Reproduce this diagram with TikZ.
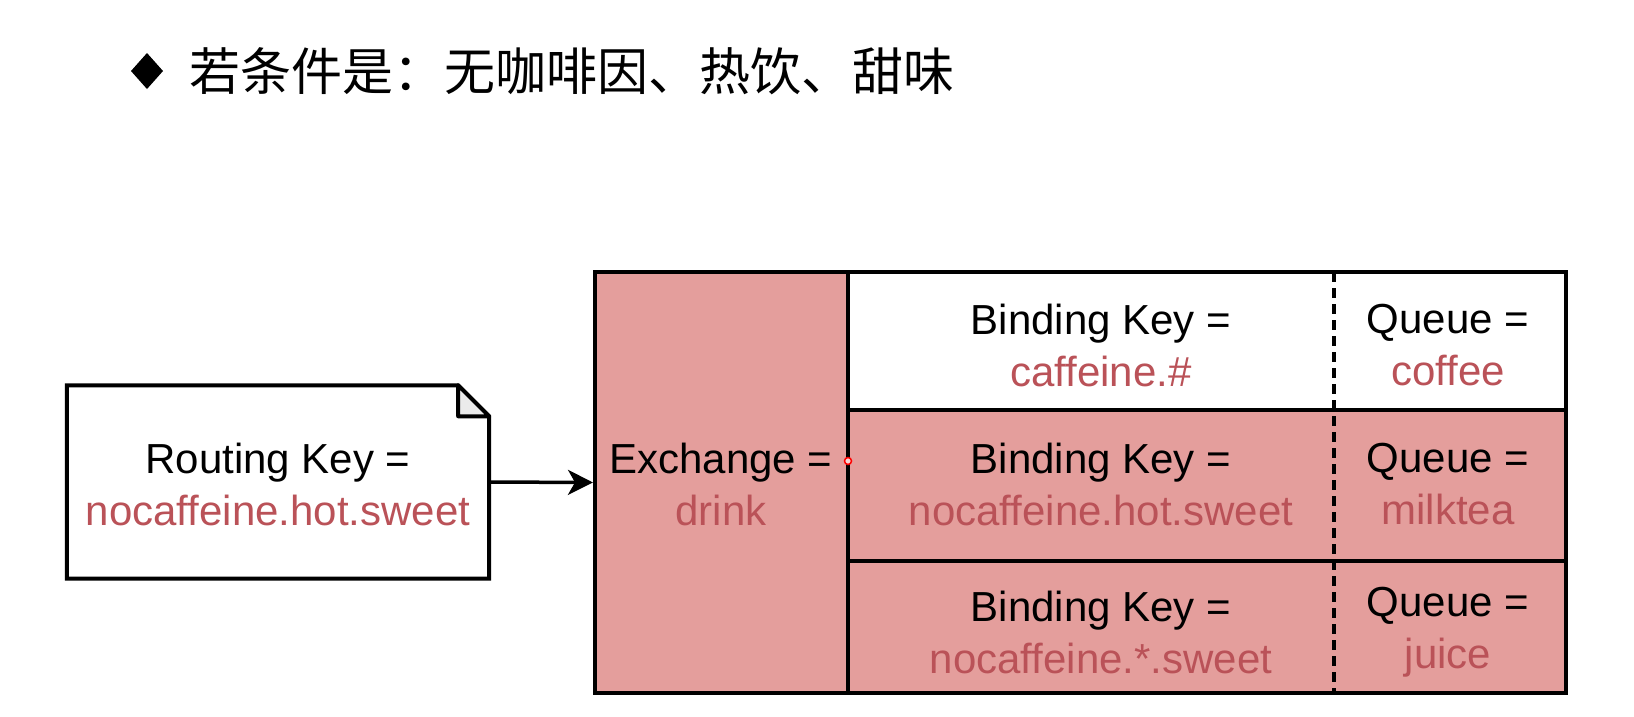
\documentclass[tikz,border=0pt]{standalone}
\usepackage{fontspec}
\setmainfont{Liberation Sans}
\newfontfamily\cjk{Noto Sans CJK SC}
\usetikzlibrary{arrows.meta}
\definecolor{dred}{RGB}{186,82,88}
\definecolor{pinkfill}{RGB}{228,158,156}
\definecolor{foldgray}{RGB}{235,235,235}
\begin{document}
\begin{tikzpicture}[x=1pt,y=-1pt,
  cell/.style={draw=black, line width=4pt, inner sep=0pt},
  lbl/.style={align=center, font=\fontsize{42}{52}\selectfont, inner sep=0pt},
  sep/.style={line width=3.5pt, dash pattern=on 10pt off 6pt},
  conn/.style={line width=3.5pt, -{Stealth[length=25pt,width=25pt,inset=7pt]}},
  ]
\useasboundingbox (0,0) rectangle (1634,716);
\fill[white] (0,0) rectangle (1634,716);
% title
\fill[black] (131,71) -- (147,53) -- (163,71) -- (147,89) -- cycle;
\node[anchor=west, inner sep=0pt, font=\cjk\fontsize{51}{60}\selectfont] (title) at (189,71) {若条件是：无咖啡因、热饮、甜味};
% table rows
\node[cell, fill=white, minimum width=718pt, minimum height=138pt] (r1) at (1207,341) {};
\node[cell, fill=pinkfill, minimum width=718pt, minimum height=151pt] (r2) at (1207,485.5) {};
\node[cell, fill=pinkfill, minimum width=718pt, minimum height=132pt] (r3) at (1207,627) {};
\node[cell, fill=pinkfill, minimum width=253pt, minimum height=421pt] (ex) at (721.5,482.5) {};
\coordinate (dtop) at (1334,272);
\coordinate (dbot) at (1334,693);
\draw[sep] (dtop) -- (dbot);
% labels
\node[lbl] (exl) at (721,484) {Exchange =\\\textcolor{dred}{drink}};
\node[lbl] (bk1) at (1101,345) {Binding Key =\\\textcolor{dred}{caffeine.\#}};
\node[lbl] (q1) at (1448,345) {Queue =\\\textcolor{dred}{coffee}};
\node[lbl] (bk2) at (1101,484) {Binding Key =\\\textcolor{dred}{nocaffeine.hot.sweet}};
\node[lbl] (q2) at (1448,484) {Queue =\\\textcolor{dred}{milktea}};
\node[lbl] (bk3) at (1101,632.5) {Binding Key =\\\textcolor{dred}{nocaffeine.*.sweet}};
\node[lbl] (q3) at (1448,632.5) {Queue =\\\textcolor{dred}{juice}};
\node[circle, draw=red, fill=white!60!pinkfill, line width=1.5pt, minimum size=7pt, inner sep=0pt] (pt) at (848,461) {};
% routing key note
\node[inner sep=0pt, minimum width=422pt, minimum height=193pt] (doc) at (278,482) {};
\draw[line width=4pt, fill=white] (doc.north west) -- ([xshift=-31pt]doc.north east) -- ([yshift=-31pt]doc.north east) -- (doc.south east) -- (doc.south west) -- cycle;
\filldraw[line width=4pt, fill=foldgray, line join=round] ([xshift=-31pt]doc.north east) -- ([xshift=-31pt,yshift=-31pt]doc.north east) -- ([yshift=-31pt]doc.north east) -- cycle;
\node[lbl] (docl) at (278,484) {Routing Key =\\\textcolor{dred}{nocaffeine.hot.sweet}};
\draw[conn] (doc.east) -- (ex.west);
\end{tikzpicture}
\end{document}
